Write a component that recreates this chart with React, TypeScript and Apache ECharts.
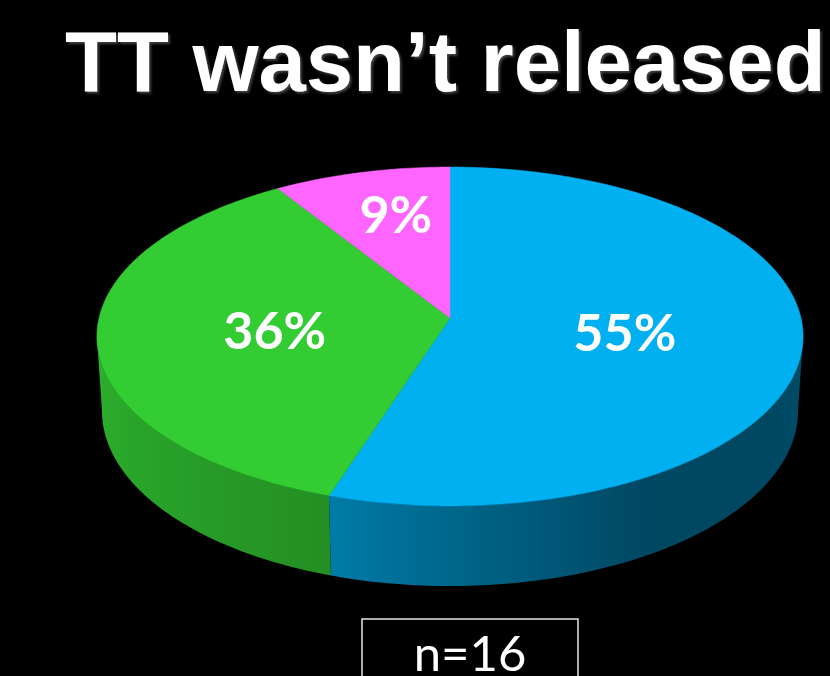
import React, { useEffect, useRef } from 'react';
import * as echarts from 'echarts';

// ---- data ----
const TITLE = 'TT wasn’t released';
const SLICE_NAMES = ['55%', '36%', '9%'];
const VALUES = [55, 36, 9];
const LABELS = ['55%', '36%', '9%'];
const COLORS = ['#00B0F0', '#33CC33', '#FF66FF'];
const NOTE = 'n=16';

// ---- 3D projection (perspective tilted disc) ----
const CX = 450;
const CY = 318;
const FOCAL = 2829;
const DIST = 8.06;
const SIN_T = 0.477;
const COS_T = 0.879;
const DEPTH = 0.244;
const SIL = (Math.acos(-COS_T / DIST) * 180) / Math.PI; // ~96.3 deg

function proj(phiDeg: number, r: number, y: number): number[] {
  const p = (phiDeg * Math.PI) / 180;
  const X = r * Math.sin(p);
  const Z = r * Math.cos(p);
  const yc = y * COS_T + Z * SIN_T;
  const zc = DIST + Z * COS_T - y * SIN_T;
  return [CX + (FOCAL * X) / zc, CY - (FOCAL * yc) / zc];
}

const BRIGHT: number[][] = [
  [90, 0.43], [96, 0.43], [130, 0.40], [150, 0.41], [175, 0.55], [198, 0.70], [230, 0.79], [270, 0.88],
];
function brightness(phi: number): number {
  if (phi <= BRIGHT[0][0]) return BRIGHT[0][1];
  for (let i = 1; i < BRIGHT.length; i++) {
    if (phi <= BRIGHT[i][0]) {
      const [a0, b0] = BRIGHT[i - 1];
      const [a1, b1] = BRIGHT[i];
      return b0 + ((b1 - b0) * (phi - a0)) / (a1 - a0);
    }
  }
  return BRIGHT[BRIGHT.length - 1][1];
}
function shade(hex: string, b: number): string {
  const n = parseInt(hex.slice(1), 16);
  const r = Math.round(((n >> 16) & 255) * b);
  const g = Math.round(((n >> 8) & 255) * b);
  const bl = Math.round((n & 255) * b);
  return `rgb(${r},${g},${bl})`;
}

export default function App() {
  const ref = useRef<HTMLDivElement>(null);
  useEffect(() => {
    if (!ref.current) return;
    const chart = echarts.init(ref.current, undefined, { renderer: 'svg' });
    const total = VALUES.reduce((a, b) => a + b, 0);
    const cum: number[] = [];
    VALUES.reduce((acc, v, i) => {
      cum[i] = acc;
      return acc + v;
    }, 0);

    const renderItem = (params: any, api: any) => {
      const i = params.dataIndex;
      const v = api.value(0);
      const start = (cum[i] / total) * 360;
      const end = ((cum[i] + v) / total) * 360;
      const color = COLORS[i];
      const children: any[] = [];
      // outer wall (front, visible part) as one polygon with a horizontal gradient
      const lo = Math.max(start, SIL);
      const hi = Math.min(end, 360 - SIL);
      if (hi > lo) {
        const topPts: number[][] = [];
        const botPts: number[][] = [];
        const angles: number[] = [];
        for (let a = lo; a < hi; a += 1) angles.push(a);
        angles.push(hi);
        angles.forEach((a) => {
          topPts.push(proj(a, 1, 0));
          botPts.push(proj(a, 1, -DEPTH));
        });
        const all = topPts.concat(botPts);
        const xs = all.map((p) => p[0]);
        const minX = Math.min(...xs);
        const maxX = Math.max(...xs);
        const stops: any[] = [];
        for (let k = angles.length - 1; k >= 0; k -= 2) {
          const a = angles[k];
          const x = (topPts[k][0] + botPts[k][0]) / 2;
          stops.push({ offset: Math.min(1, Math.max(0, (x - minX) / (maxX - minX))), color: shade(color, brightness(a)) });
        }
        stops.sort((p, q) => p.offset - q.offset);
        children.push({
          type: 'polygon',
          shape: { points: topPts.concat(botPts.slice().reverse()) },
          style: {
            fill: new echarts.graphic.LinearGradient(0, 0, 1, 0, stops),
          },
        });
      }
      // top face
      const pts: number[][] = [proj(0, 0, 0)];
      for (let a = start; a < end; a += 1) pts.push(proj(a, 1, 0));
      pts.push(proj(end, 1, 0));
      children.push({
        type: 'polygon',
        shape: { points: pts },
        style: { fill: color, stroke: color, lineWidth: 0.5 },
      });
      // label
      const mid = (start + end) / 2;
      const share = v / total;
      const lp = proj(mid, share < 0.15 ? 0.68 : 0.5, 0);
      children.push({
        type: 'text',
        x: lp[0] + (share < 0.15 ? 8 : 0),
        y: lp[1] - (share < 0.15 ? 3 : 0),
        style: {
          text: LABELS[i],
          fill: '#ffffff',
          fontSize: 52,
          fontWeight: 'bold',
          fontFamily: 'Lato, "Open Sans", sans-serif',
          textAlign: 'center',
          textVerticalAlign: 'middle',
        },
      });
      return { type: 'group', children };
    };

    chart.setOption({
      animation: false,
      backgroundColor: '#000000',
      graphic: [
        {
          type: 'text',
          x: 65,
          y: 61,
          style: {
            text: TITLE,
            fill: '#ffffff',
            fontSize: 85,
            fontWeight: 'bold',
            fontFamily: '"Liberation Sans", Arial, sans-serif',
            textAlign: 'left',
            textVerticalAlign: 'middle',
            textShadowColor: 'rgba(90,90,90,0.7)',
            textShadowOffsetX: 2,
            textShadowOffsetY: 2,
            textShadowBlur: 2,
          },
        },
        {
          type: 'rect',
          shape: { x: 362, y: 619, width: 216, height: 80 },
          style: { fill: 'rgba(0,0,0,0)', stroke: '#e6e6e6', lineWidth: 1.5 },
        },
        {
          type: 'text',
          x: 470,
          y: 652,
          style: {
            text: NOTE,
            fill: '#ffffff',
            fontSize: 49,
            lineHeight: 42,
            fontFamily: 'Lato, "Open Sans", sans-serif',
            textAlign: 'center',
            textVerticalAlign: 'middle',
          },
        },
      ],
      series: [
        {
          type: 'custom',
          coordinateSystem: 'none',
          silent: true,
          renderItem,
          data: VALUES.map((v, i) => ({ name: SLICE_NAMES[i], value: [v] })),
        },
      ],
    });
    return () => chart.dispose();
  }, []);
  return (
    <div
      ref={ref}
      style={{ position: 'absolute', left: 0, top: 0, width: 830, height: 676 }}
    />
  );
}
